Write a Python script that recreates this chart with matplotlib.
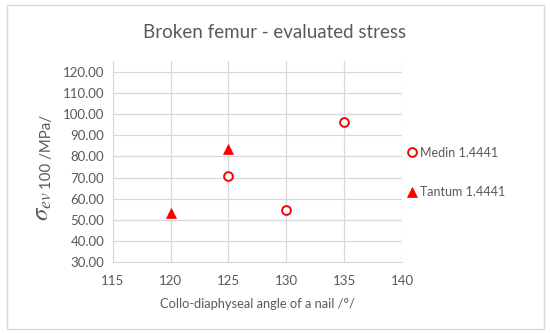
import matplotlib.pyplot as plt
from matplotlib.patches import Rectangle

plt.rcParams['font.family'] = ['Lato', 'DejaVu Sans']
plt.rcParams['mathtext.fontset'] = 'stix'

# Medin 1.4441
medin_x = [125, 130, 135]
medin_y = [70.6, 54.7, 96.4]
# Tantum 1.4441
tantum_x = [120, 125]
tantum_y = [53.1, 83.6]

x_ticks = [115, 120, 125, 130, 135, 140]
y_ticks = [30, 40, 50, 60, 70, 80, 90, 100, 110, 120]

text_col = '#595959'
grid_col = '#d9d9d9'

fig = plt.figure(figsize=(5.5, 3.33), dpi=100)
ax = fig.add_axes([112.7 / 550, 1 - 262.3 / 333, (402 - 112.7) / 550, (262.3 - 61) / 333])

ax.plot(medin_x, medin_y, 'o', ls='none', ms=6.3, mfc='white', mec='#ff0000', mew=1.4,
        label='Medin 1.4441')
ax.plot(tantum_x, tantum_y, '^', ls='none', ms=7, mfc='#ff0000', mec='#ff0000', mew=0.5,
        label='Tantum 1.4441')

ax.set_xlim(115, 140)
ax.set_ylim(30, 125)
ax.set_xticks(x_ticks)
ax.set_yticks(y_ticks)
ax.set_yticklabels(['%.2f' % v for v in y_ticks])
ax.grid(True, color=grid_col, lw=0.9)
ax.set_axisbelow(True)
for s in ['top', 'right']:
    ax.spines[s].set_visible(False)
for s in ['left', 'bottom']:
    ax.spines[s].set_color(grid_col)
ax.tick_params(length=0, colors=text_col, labelsize=9.5)
ax.tick_params(axis='x', pad=9)
ax.tick_params(axis='y', pad=6)

ax.set_xlabel('Collo-diaphyseal angle of a nail /°/', color=text_col, fontsize=9.3, labelpad=8)

# y label: big sigma with subscript, then the rest in normal text
fig.text(43 / 550, 1 - 221 / 333, r'$\sigma_{ev}$', rotation=90, ha='center', va='bottom',
         color=text_col, fontsize=18)
fig.text(47 / 550, 1 - 189 / 333, '100 /MPa/', rotation=90, ha='center', va='bottom',
         color=text_col, fontsize=10.8)

fig.text(0.5, 1 - 32 / 333, 'Broken femur - evaluated stress', ha='center', va='center',
         color=text_col, fontsize=13.5)

ax.legend(loc='center left', bbox_to_anchor=(0.99, 0.446), frameon=False, labelspacing=2.2,
          handletextpad=0.05, handlelength=1.2, fontsize=9, labelcolor=text_col,
          borderaxespad=0)

fig.patches.append(Rectangle((7 / 550, 4 / 333), 537 / 550, 324 / 333, transform=fig.transFigure,
                             fill=False, ec=grid_col, lw=1))

plt.savefig('out.png', dpi=100)
